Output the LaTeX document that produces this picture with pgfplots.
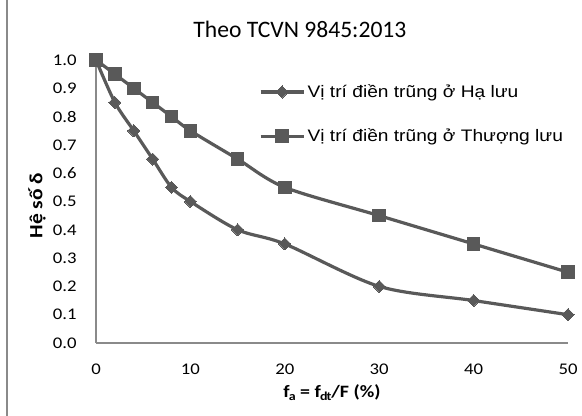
\documentclass[border=0pt]{standalone}
\usepackage{pgfplots}
\pgfplotsset{compat=1.18}
\usepackage{fontspec}
\setmainfont{Carlito}[FakeStretch=1.15]
\newfontfamily\titlefont{Carlito}
\newfontfamily\legendfont{Liberation Sans}[FakeStretch=1.15]
\definecolor{serie}{HTML}{595959}
\definecolor{axisgray}{HTML}{8A8A8A}

\begin{document}
\begin{tikzpicture}
\useasboundingbox (0,0) rectangle (436.5pt,312pt);
\draw[axisgray, line width=0.8pt] (5.25pt,0) -- (5.25pt,312pt);
\begin{axis}[
  at={(72pt,54.75pt)}, anchor=south west,
  scale only axis, width=354pt, height=212.25pt,
  xmin=0, xmax=50, ymin=0, ymax=1,
  axis x line*=bottom, axis y line*=left,
  axis line style={axisgray, line width=0.8pt, -},
  xtick={0,10,...,50}, ytick={0,0.1,...,1.0},
  major tick length=0pt,
  /pgf/number format/assume math mode=true,
  yticklabel={\pgfmathprintnumber[fixed,fixed zerofill,precision=1]{\tick}},
  ticklabel style={font=\fontsize{12.2}{14}\selectfont, black},
  yticklabel style={xshift=-11pt},
  xticklabel style={yshift=-12.5pt},
  every axis title shift=0pt,
  title={Theo TCVN 9845:2013},
  title style={at={(0.432,1.108)}, anchor=center, font=\titlefont\fontsize{17.7}{20}\selectfont},
  xlabel={$\mathbf{f_a}$ = $\mathbf{f_{dt}}$/F (\%)},
  xlabel style={at={(0.5,-0.177)}, anchor=center, font=\fontsize{13}{15}\selectfont\bfseries},
  ylabel={Hệ số δ},
  ylabel style={at={(-0.125,0.486)}, anchor=center, font=\fontsize{14}{16}\selectfont\bfseries},
  legend style={at={(0.345,0.809)}, anchor=west, draw=none, fill=none,
    row sep=18pt, inner sep=0pt,
    /tikz/every even column/.append style={column sep=1pt}},
  legend cell align=left,
  legend image code/.code={%
    \draw[#1,mark repeat=2,mark phase=2] plot coordinates {(0pt,0pt)(16pt,0pt)(32pt,0pt)};},
]
\addplot[serie, line width=2.4pt, smooth, mark=square*, mark size=3.2pt,
  mark options={rotate=45, solid, fill=serie, line width=0pt}]
  coordinates {(0,1.0)(2,0.85)(4,0.75)(6,0.65)(8,0.55)(10,0.5)(15,0.4)(20,0.35)(30,0.2)(40,0.15)(50,0.1)};
\addlegendentry{\legendfont\fontsize{12.5}{14}\selectfont Vị trí điền trũng ở Hạ lưu}
\addplot[serie, line width=2.4pt, smooth, mark=square*, mark size=4.7pt,
  mark options={solid, fill=serie, line width=0pt}]
  coordinates {(0,1.0)(2,0.95)(4,0.9)(6,0.85)(8,0.8)(10,0.75)(15,0.65)(20,0.55)(30,0.45)(40,0.35)(50,0.25)};
\addlegendentry{\legendfont\fontsize{12.5}{14}\selectfont Vị trí điền trũng ở Thượng lưu}
\end{axis}
\end{tikzpicture}
\end{document}
